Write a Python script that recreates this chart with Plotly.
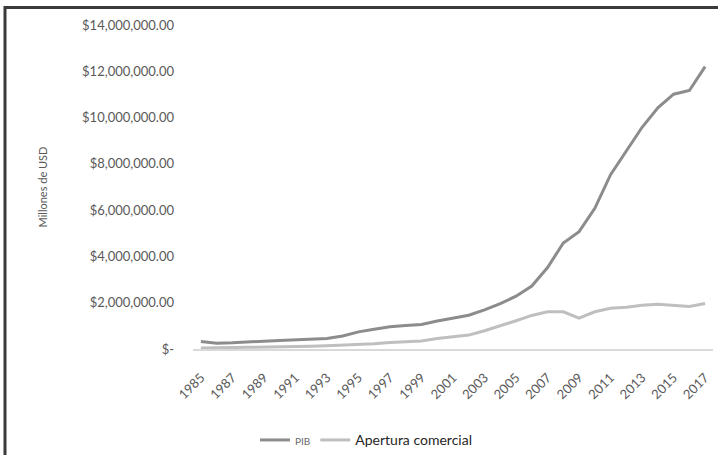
import plotly.graph_objects as go

years = list(range(1985, 2018))

# PIB (millones de USD)
pib = [320000, 250000, 265000, 310000, 340000, 365000, 385000, 425000, 450000, 560000,
       740000, 850000, 960000, 1020000, 1060000, 1210000, 1340000, 1460000, 1690000, 1960000,
       2280000, 2720000, 3520000, 4580000, 5070000, 6080000, 7530000, 8530000, 9580000, 10420000,
       11010000, 11170000, 12200000]

# Apertura comercial (millones de USD)
apertura = [40000, 40000, 60000, 75000, 80000, 85000, 100000, 120000, 145000, 170000,
            210000, 230000, 280000, 330000, 350000, 450000, 510000, 600000, 790000, 990000,
            1220000, 1450000, 1610000, 1610000, 1330000, 1610000, 1760000, 1800000, 1890000, 1930000,
            1890000, 1840000, 1970000]

y_ticks = [0, 2000000, 4000000, 6000000, 8000000, 10000000, 12000000, 14000000]
y_tick_text = ["$-", "$2,000,000.00", "$4,000,000.00", "$6,000,000.00", "$8,000,000.00",
               "$10,000,000.00", "$12,000,000.00", "$14,000,000.00"]

FONT = "Lato"
GRAY = "#595959"

fig = go.Figure()
fig.add_trace(go.Scatter(
    x=years, y=pib, mode="lines", name="<span style='font-size:10px;fill:#6a6a6a'>PIB</span>",
    line=dict(color="#8c8c8c", width=3),
))
fig.add_trace(go.Scatter(
    x=years, y=apertura, mode="lines",
    name="<span style='font-size:14px;fill:#262626'>Apertura comercial</span>",
    line=dict(color="#bfbfbf", width=3),
))

W, H = 718, 455
L, R, T, B = 193, 5, 25, 106
pw, ph = W - L - R, H - T - B

# outer frame (top and left edges fall inside the page)
fig.add_shape(
    type="rect", xref="paper", yref="paper",
    x0=(5 - L) / pw, x1=(W + 20 - L) / pw,
    y0=-(H + 20 - T - ph) / ph, y1=(T + ph - 7.5) / ph,
    line=dict(color="#3a3a3a", width=3), fillcolor="rgba(0,0,0,0)", layer="above",
)

fig.update_layout(
    width=W, height=H,
    margin=dict(l=L, r=R, t=T, b=B, autoexpand=False),
    paper_bgcolor="white", plot_bgcolor="white",
    font=dict(family=FONT, size=13, color=GRAY),
    showlegend=True,
    legend=dict(
        orientation="h", x=(366 - L) / pw, xanchor="center",
        y=-(440 - T - ph) / ph, yanchor="middle",
        itemwidth=30, font=dict(family=FONT, size=13, color=GRAY),
        bgcolor="rgba(0,0,0,0)",
    ),
    xaxis=dict(
        range=[1984.5, 2017.5], tickmode="linear", tick0=1985, dtick=2,
        tickangle=-45, showgrid=False, zeroline=False, automargin=False,
        showline=True, linecolor="#d9d9d9", linewidth=2,
        ticks="", ticklabelstandoff=14,
        tickfont=dict(family=FONT, size=13, color=GRAY),
    ),
    yaxis=dict(
        range=[0, 14000000], tickmode="array", tickvals=y_ticks, ticktext=y_tick_text,
        showgrid=False, zeroline=False, showline=False, ticks="", automargin=False,
        ticklabelstandoff=18,
        tickfont=dict(family=FONT, size=13, color=GRAY),
        title=dict(text="Millones de USD", font=dict(family=FONT, size=11, color=GRAY), standoff=32),
    ),
)

fig.write_html("out.html")
